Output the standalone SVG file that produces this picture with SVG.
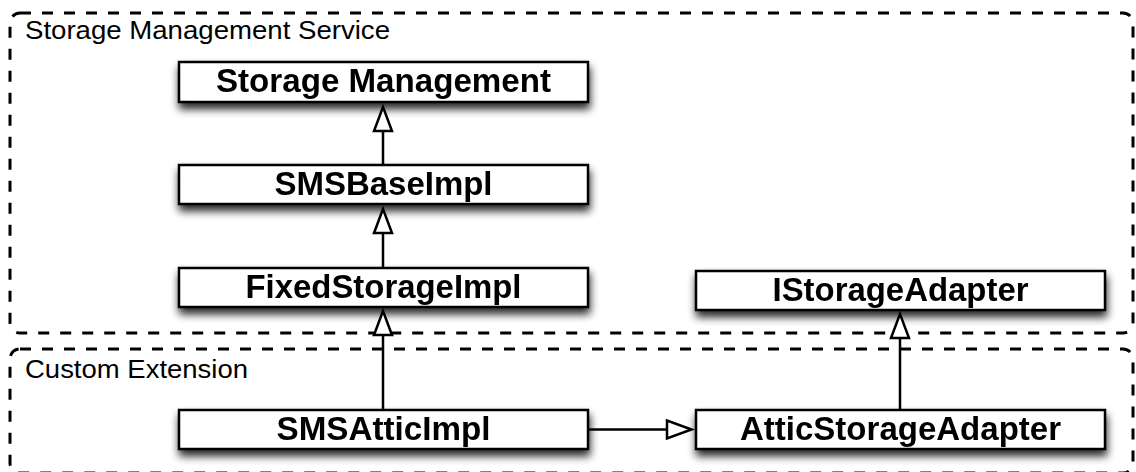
<svg xmlns="http://www.w3.org/2000/svg" width="1136" height="472" viewBox="0 0 1136 472">
  <style>
    .container { fill: none; stroke: #000; stroke-width: 3; stroke-dasharray: 11 11; }
    .ctitle { font-family: "Liberation Sans", Arial, Helvetica, sans-serif; font-size: 26px; fill: #000; }
    .box { fill: #fff; stroke: #000; stroke-width: 2.5; }
    .label { font-family: "Liberation Sans", Arial, Helvetica, sans-serif; font-size: 33px; font-weight: bold; fill: #000; text-anchor: middle; }
    .conn { fill: none; stroke: #000; stroke-width: 2.5; }
    .head { fill: #fff; stroke: #000; stroke-width: 2.5; stroke-linejoin: miter; }
  </style>
  <defs>
    <filter id="shadow" x="-10%" y="-30%" width="120%" height="190%">
      <feGaussianBlur in="SourceAlpha" stdDeviation="4"/>
      <feOffset dx="1" dy="6" result="b"/>
      <feComponentTransfer><feFuncA type="linear" slope="0.85"/></feComponentTransfer>
      <feMerge><feMergeNode/><feMergeNode in="SourceGraphic"/></feMerge>
    </filter>
  </defs>
  <rect width="1136" height="472" fill="#fff"/>

  <g id="container-sms">
    <rect class="container" x="10" y="13" width="1123" height="320" rx="10"/>
    <text class="ctitle" x="25" y="38.5" textLength="365" lengthAdjust="spacingAndGlyphs">Storage Management Service</text>
  </g>
  <g id="container-custom">
    <rect class="container" x="10" y="349" width="1123" height="124" rx="10"/>
    <text class="ctitle" x="25" y="377.5" textLength="223" lengthAdjust="spacingAndGlyphs">Custom Extension</text>
  </g>

  <g id="node-storage-management" filter="url(#shadow)">
    <rect class="box" x="179" y="62" width="409" height="40"/>
    <text class="label" x="383.5" y="92" textLength="335" lengthAdjust="spacingAndGlyphs">Storage Management</text>
  </g>
  <g id="node-smsbaseimpl" filter="url(#shadow)">
    <rect class="box" x="179" y="165" width="409" height="39"/>
    <text class="label" x="383.5" y="195" textLength="218" lengthAdjust="spacingAndGlyphs">SMSBaseImpl</text>
  </g>
  <g id="node-fixedstorageimpl" filter="url(#shadow)">
    <rect class="box" x="179" y="268" width="409" height="39"/>
    <text class="label" x="383.5" y="298" textLength="276" lengthAdjust="spacingAndGlyphs">FixedStorageImpl</text>
  </g>
  <g id="node-istorageadapter" filter="url(#shadow)">
    <rect class="box" x="696" y="271" width="409" height="39"/>
    <text class="label" x="900.5" y="301" textLength="256" lengthAdjust="spacingAndGlyphs">IStorageAdapter</text>
  </g>
  <g id="node-smsatticimpl" filter="url(#shadow)">
    <rect class="box" x="179" y="410" width="409" height="39"/>
    <text class="label" x="383.5" y="440" textLength="214" lengthAdjust="spacingAndGlyphs">SMSAtticImpl</text>
  </g>
  <g id="node-atticstorageadapter" filter="url(#shadow)">
    <rect class="box" x="696" y="410" width="409" height="39"/>
    <text class="label" x="900.5" y="440" textLength="321" lengthAdjust="spacingAndGlyphs">AtticStorageAdapter</text>
  </g>

  <g id="connectors">
    <line class="conn" x1="383" y1="165" x2="383" y2="131"/>
    <polygon class="head" points="383,107 374,131 392,131"/>
    <line class="conn" x1="383" y1="268" x2="383" y2="233"/>
    <polygon class="head" points="383,209 374,233 392,233"/>
    <line class="conn" x1="383" y1="410" x2="383" y2="335"/>
    <polygon class="head" points="383,311 374,335 392,335"/>
    <line class="conn" x1="900" y1="410" x2="900" y2="338"/>
    <polygon class="head" points="900,314 891,338 909,338"/>
    <line class="conn" x1="588" y1="429.5" x2="667" y2="429.5"/>
    <polygon class="head" points="691.5,429.5 667,420.5 667,438.5"/>
  </g>
</svg>
